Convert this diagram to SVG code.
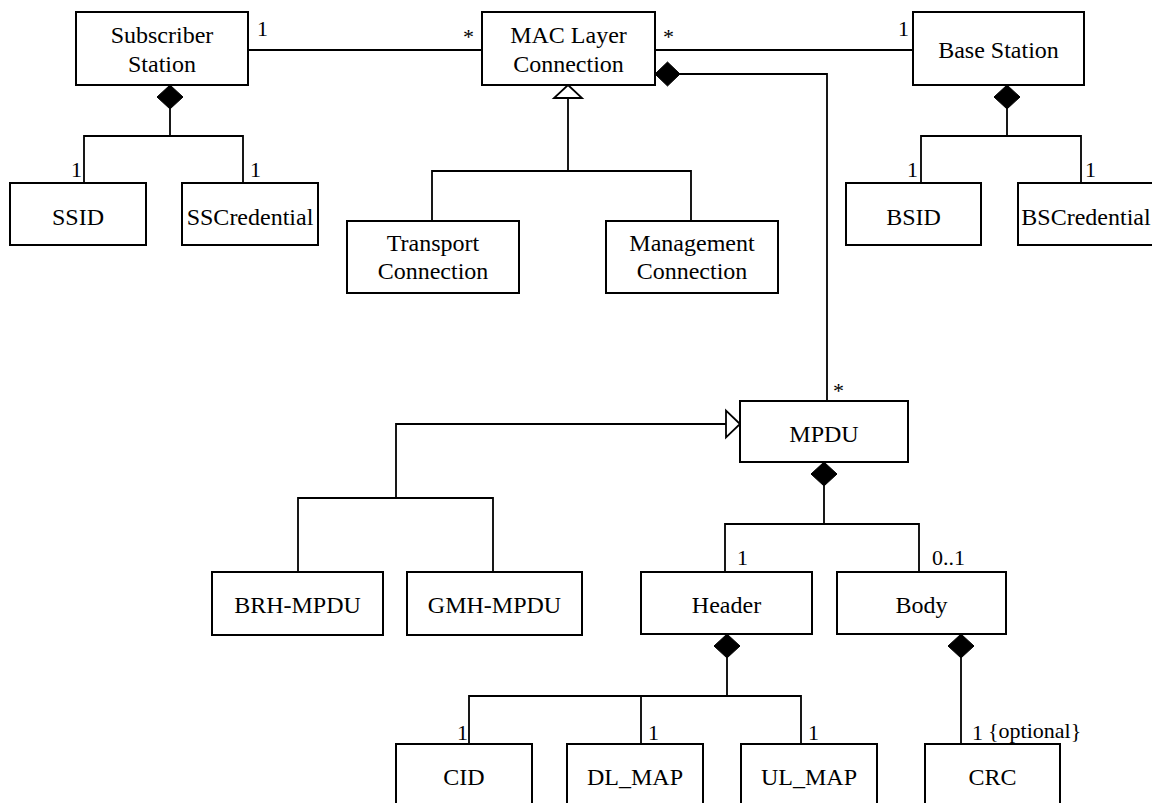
<svg xmlns="http://www.w3.org/2000/svg" width="1152" height="803" viewBox="0 0 1152 803">
<style>
.box{fill:#fff;stroke:#000;stroke-width:2}
.t{font-family:"Liberation Serif","Times New Roman",serif;font-size:24px;fill:#000;text-anchor:middle}
.m{font-family:"Liberation Serif","Times New Roman",serif;font-size:22px;fill:#000}
.ln{fill:none;stroke:#000;stroke-width:1.8}
.dia{fill:#000;stroke:#000;stroke-width:1}
.tri{fill:#fff;stroke:#000;stroke-width:1.8}
</style>
<rect width="1152" height="803" fill="#fff"/>
<g id="connectors">
  <!-- associations -->
  <path class="ln" d="M248,50 H482"/>
  <path class="ln" d="M655,50 H913"/>
  <!-- SS composition -->
  <path class="ln" d="M170,109 V136 M84,183 V136 H243 V183"/>
  <polygon class="dia" points="170,85 183,97 170,109 157,97"/>
  <!-- BS composition -->
  <path class="ln" d="M1007,109 V136 M921,183 V136 H1081 V183"/>
  <polygon class="dia" points="1007,85 1020,97 1007,109 994,97"/>
  <!-- MAC generalization -->
  <path class="ln" d="M568,98 V171 M432,221 V171 H691 V221"/>
  <polygon class="tri" points="568,85 582,98 554,98"/>
  <!-- MAC composition to MPDU -->
  <path class="ln" d="M680,74 H827 V401"/>
  <polygon class="dia" points="655,74 667.5,62 680,74 667.5,86"/>
  <!-- MPDU generalization -->
  <path class="ln" d="M726,424 H396 V498 M298,572 V498 H493 V572"/>
  <polygon class="tri" points="740,424 726,410.5 726,437.5"/>
  <!-- MPDU composition -->
  <path class="ln" d="M824,486 V524 M725,572 V524 H919 V572"/>
  <polygon class="dia" points="824,462 837,474 824,486 811,474"/>
  <!-- Header composition -->
  <path class="ln" d="M727,658 V696 M469,744 V696 H801 V744 M641,696 V744"/>
  <polygon class="dia" points="727,634 740,646 727,658 714,646"/>
  <!-- Body composition -->
  <path class="ln" d="M961,658 V744"/>
  <polygon class="dia" points="961,634 974,646 961,658 948,646"/>
  <!-- multiplicities -->
  <text class="m" x="257" y="36">1</text>
  <text class="m" x="463" y="44">*</text>
  <text class="m" x="663" y="44">*</text>
  <text class="m" x="898" y="36">1</text>
  <text class="m" x="71" y="177">1</text>
  <text class="m" x="250" y="177">1</text>
  <text class="m" x="907" y="177">1</text>
  <text class="m" x="1085" y="177">1</text>
  <text class="m" x="833" y="398">*</text>
  <text class="m" x="737" y="565">1</text>
  <text class="m" x="932" y="565">0..1</text>
  <text class="m" x="457" y="740">1</text>
  <text class="m" x="648" y="740">1</text>
  <text class="m" x="808" y="740">1</text>
  <text class="m" x="972" y="740">1</text>
  <text class="m" x="988" y="738">{optional}</text>
</g>
<g id="subscriber-station">
  <rect class="box" x="76" y="12" width="172" height="73"/>
  <text class="t" x="162" y="43">Subscriber</text>
  <text class="t" x="162" y="72">Station</text>
</g>
<g id="mac-layer-connection">
  <rect class="box" x="482" y="12" width="173" height="73"/>
  <text class="t" x="568.5" y="43">MAC Layer</text>
  <text class="t" x="568.5" y="72">Connection</text>
</g>
<g id="base-station">
  <rect class="box" x="913" y="12" width="171" height="73"/>
  <text class="t" x="998.5" y="58">Base Station</text>
</g>
<g id="ssid">
  <rect class="box" x="10" y="183" width="136" height="62"/>
  <text class="t" x="78" y="225">SSID</text>
</g>
<g id="sscredential">
  <rect class="box" x="182" y="183" width="136" height="62"/>
  <text class="t" x="250" y="225">SSCredential</text>
</g>
<g id="bsid">
  <rect class="box" x="846" y="183" width="135" height="62"/>
  <text class="t" x="913.5" y="225">BSID</text>
</g>
<g id="bscredential">
  <rect class="box" x="1018" y="183" width="136" height="62"/>
  <text class="t" x="1086" y="225">BSCredential</text>
</g>
<g id="transport-connection">
  <rect class="box" x="347" y="221" width="172" height="72"/>
  <text class="t" x="433" y="251">Transport</text>
  <text class="t" x="433" y="279">Connection</text>
</g>
<g id="management-connection">
  <rect class="box" x="606" y="221" width="172" height="72"/>
  <text class="t" x="692" y="251">Management</text>
  <text class="t" x="692" y="279">Connection</text>
</g>
<g id="mpdu">
  <rect class="box" x="740" y="401" width="168" height="61"/>
  <text class="t" x="824" y="442">MPDU</text>
</g>
<g id="brh-mpdu">
  <rect class="box" x="212" y="572" width="171" height="63"/>
  <text class="t" x="297.5" y="613">BRH-MPDU</text>
</g>
<g id="gmh-mpdu">
  <rect class="box" x="407" y="572" width="175" height="63"/>
  <text class="t" x="494.5" y="613">GMH-MPDU</text>
</g>
<g id="header">
  <rect class="box" x="641" y="572" width="171" height="62"/>
  <text class="t" x="726.5" y="613">Header</text>
</g>
<g id="body">
  <rect class="box" x="837" y="572" width="169" height="62"/>
  <text class="t" x="921.5" y="613">Body</text>
</g>
<g id="cid">
  <rect class="box" x="396" y="744" width="136" height="62"/>
  <text class="t" x="464" y="785">CID</text>
</g>
<g id="dl-map">
  <rect class="box" x="567" y="744" width="136" height="62"/>
  <text class="t" x="635" y="785">DL_MAP</text>
</g>
<g id="ul-map">
  <rect class="box" x="741" y="744" width="136" height="62"/>
  <text class="t" x="809" y="785">UL_MAP</text>
</g>
<g id="crc">
  <rect class="box" x="925" y="744" width="135" height="62"/>
  <text class="t" x="992.5" y="785">CRC</text>
</g>
</svg>
